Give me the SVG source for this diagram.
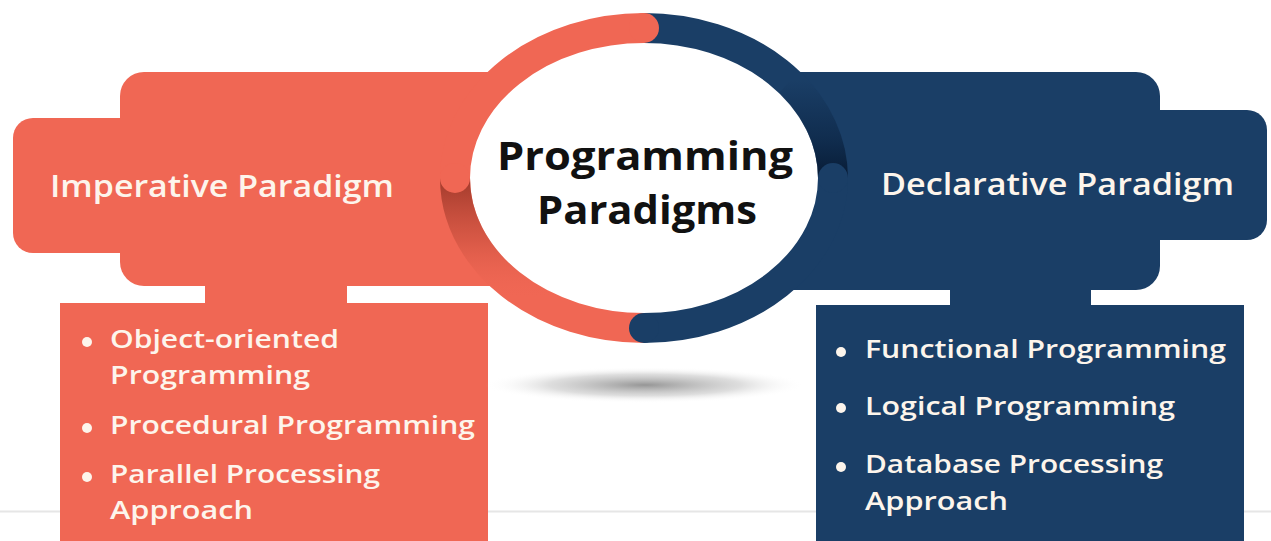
<svg xmlns="http://www.w3.org/2000/svg" width="1271" height="541" viewBox="0 0 1271 541">
<defs>
<style>
.or{fill:#F06754}
.nv{fill:#1A3E66}
.lbl{font-family:"Open Sans","Liberation Sans",sans-serif;font-weight:600;fill:#FDF5EC}
.head{font-size:30px}
.item{font-size:25px}
.ctr{font-family:"Open Sans","Liberation Sans",sans-serif;font-weight:700;font-size:40px;fill:#111}
.dot{fill:#FDF5EC}
</style>
<linearGradient id="foldL" gradientUnits="userSpaceOnUse" x1="0" y1="180" x2="0" y2="300">
<stop offset="0" stop-color="#9A3628" stop-opacity="0.9"/>
<stop offset="0.5" stop-color="#C04A38" stop-opacity="0.5"/>
<stop offset="1" stop-color="#F06754" stop-opacity="0"/>
</linearGradient>
<linearGradient id="foldR" gradientUnits="userSpaceOnUse" x1="0" y1="80" x2="0" y2="176">
<stop offset="0" stop-color="#0A2240" stop-opacity="0"/>
<stop offset="0.6" stop-color="#0A2240" stop-opacity="0.6"/>
<stop offset="1" stop-color="#071A33" stop-opacity="0.95"/>
</linearGradient>
<radialGradient id="shadow" cx="0.5" cy="0.5" r="0.5">
<stop offset="0" stop-color="#8a8a8a" stop-opacity="0.9"/>
<stop offset="0.6" stop-color="#b5b5b5" stop-opacity="0.45"/>
<stop offset="1" stop-color="#ffffff" stop-opacity="0"/>
</radialGradient>
</defs>
<rect width="1271" height="541" fill="#ffffff"/>
<line x1="0" y1="511.5" x2="1271" y2="511.5" stroke="#E6E6E6" stroke-width="2"/>

<g id="imperative">
<rect class="or" x="13" y="118" width="220" height="135" rx="20"/>
<rect class="or" x="120" y="72" width="440" height="214" rx="24"/>
<rect class="or" x="205" y="280" width="142" height="30"/>
<rect class="or" x="60" y="303" width="428" height="250"/>
<text class="lbl head" x="50" y="197" textLength="344" lengthAdjust="spacingAndGlyphs">Imperative Paradigm</text>
<circle class="dot" cx="87" cy="342" r="5"/>
<text class="lbl item" x="110" y="348" textLength="229" lengthAdjust="spacingAndGlyphs">Object-oriented</text>
<text class="lbl item" x="110" y="384" textLength="200" lengthAdjust="spacingAndGlyphs">Programming</text>
<circle class="dot" cx="87" cy="428" r="5"/>
<text class="lbl item" x="110" y="434" textLength="365" lengthAdjust="spacingAndGlyphs">Procedural Programming</text>
<circle class="dot" cx="87" cy="477" r="5"/>
<text class="lbl item" x="110" y="483" textLength="270" lengthAdjust="spacingAndGlyphs">Parallel Processing</text>
<text class="lbl item" x="110" y="519" textLength="143" lengthAdjust="spacingAndGlyphs">Approach</text>
</g>

<g id="declarative">
<rect class="nv" x="1040" y="110" width="227" height="130" rx="20"/>
<rect class="nv" x="730" y="72" width="430" height="218" rx="24"/>
<rect class="nv" x="950" y="284" width="141" height="30"/>
<rect class="nv" x="816" y="305" width="428" height="250"/>
<text class="lbl head" x="881" y="195" textLength="353" lengthAdjust="spacingAndGlyphs">Declarative Paradigm</text>
<circle class="dot" cx="841" cy="352" r="5"/>
<text class="lbl item" x="865" y="358" textLength="361" lengthAdjust="spacingAndGlyphs">Functional Programming</text>
<circle class="dot" cx="841" cy="408" r="5"/>
<text class="lbl item" x="865" y="415" textLength="310" lengthAdjust="spacingAndGlyphs">Logical Programming</text>
<circle class="dot" cx="841" cy="467" r="5"/>
<text class="lbl item" x="865" y="473" textLength="298" lengthAdjust="spacingAndGlyphs">Database Processing</text>
<text class="lbl item" x="865" y="510" textLength="143" lengthAdjust="spacingAndGlyphs">Approach</text>
</g>

<ellipse cx="645" cy="385" rx="160" ry="18" fill="url(#shadow)"/>

<g id="center">
<ellipse cx="644" cy="178" rx="176" ry="138" fill="#ffffff"/>
<path d="M644,28 A189,150 0 0 0 644,328" fill="none" stroke="#F06754" stroke-width="30"/>
<path d="M644,28 A189,150 0 0 1 644,328" fill="none" stroke="#1A3E66" stroke-width="30"/>
<circle class="or" cx="644" cy="28" r="15"/>
<circle class="nv" cx="644" cy="328" r="15"/>
<path d="M455,178 A189,150 0 0 0 550,308" fill="none" stroke="url(#foldL)" stroke-width="30"/>
<circle class="or" cx="455" cy="178" r="15"/>
<path d="M789,82 A189,150 0 0 1 833,178" fill="none" stroke="url(#foldR)" stroke-width="30"/>
<circle class="nv" cx="833" cy="178" r="15"/>
<text class="ctr" x="645" y="170" text-anchor="middle" textLength="296" lengthAdjust="spacingAndGlyphs">Programming</text>
<text class="ctr" x="647" y="224" text-anchor="middle" textLength="220" lengthAdjust="spacingAndGlyphs">Paradigms</text>
</g>

<g id="connectors"></g>
</svg>
